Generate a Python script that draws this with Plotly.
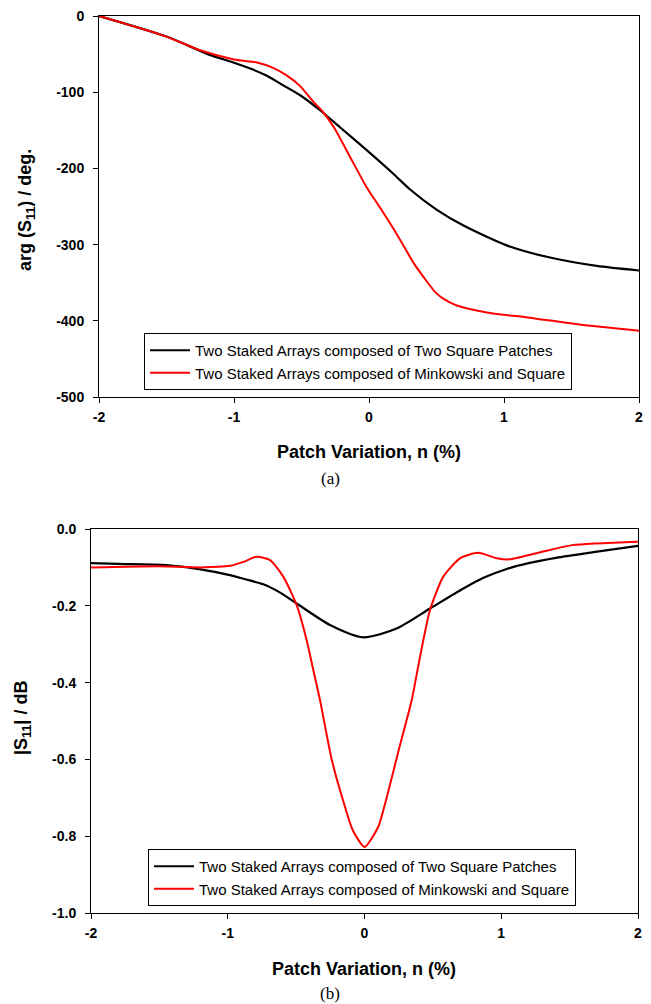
import plotly.graph_objects as go

# ---- Data (a): phase of S11 (deg) ----
xa_square = [-2, -1.5, -1.18, -1.005, -0.88, -0.76, -0.635, -0.51, -0.36, -0.215, -0.017, 0.18, 0.3, 0.5, 0.70, 1.02, 1.316, 1.687, 2.0]
ya_square = [0, -27, -51, -61, -69, -78, -91, -104, -124, -146, -176, -207, -227, -254, -275, -301, -316, -328, -334]

xa_mink = [-2, -1.5, -1.25, -1.0, -0.83, -0.71, -0.61, -0.51, -0.41, -0.35, -0.26, -0.14, -0.017, 0.08, 0.205, 0.33, 0.41, 0.489, 0.55, 0.65, 0.872, 1.19, 1.56, 2.0]
ya_mink = [0, -27, -45, -57, -61, -68, -78, -92, -113, -124, -146, -185, -225, -251, -286, -324, -344, -362, -371, -380, -389, -396, -405, -413]

# ---- Data (b): magnitude of S11 (dB) ----
xb_square = [-2, -1.8, -1.45, -1.2, -0.984, -0.87, -0.74, -0.62, -0.496, -0.252, -0.009, 0.235, 0.479, 0.723, 0.87, 1.04, 1.2, 1.4, 1.7, 2.0]
yb_square = [-0.089, -0.091, -0.094, -0.105, -0.120, -0.131, -0.144, -0.165, -0.194, -0.250, -0.282, -0.259, -0.207, -0.155, -0.127, -0.104, -0.089, -0.075, -0.059, -0.044]

xb_mink = [-2, -1.5, -1.2, -0.984, -0.88, -0.79, -0.69, -0.594, -0.496, -0.423, -0.374, -0.325, -0.24, -0.15, -0.085, 0.0, 0.10, 0.17, 0.25, 0.345, 0.406, 0.479, 0.576, 0.70, 0.83, 0.967, 1.06, 1.28, 1.52, 2.0]
yb_mink = [-0.10, -0.097, -0.10, -0.096, -0.085, -0.072, -0.081, -0.124, -0.198, -0.289, -0.368, -0.446, -0.60, -0.715, -0.785, -0.828, -0.776, -0.689, -0.576, -0.446, -0.333, -0.211, -0.124, -0.076, -0.062, -0.076, -0.079, -0.061, -0.042, -0.033]

name_square = "Two Staked Arrays composed of Two Square Patches"
name_mink = "Two Staked Arrays composed of Minkowski and Square"

xticks = [-2, -1, 0, 1, 2]
xtick_text = ["-2", "-1", "0", "1", "2"]
ya_ticks = [0, -100, -200, -300, -400, -500]
ya_tick_text = ["0", "-100", "-200", "-300", "-400", "-500"]
yb_ticks = [0.0, -0.2, -0.4, -0.6, -0.8, -1.0]
yb_tick_text = ["0.0", "-0.2", "-0.4", "-0.6", "-0.8", "-1.0"]

# page body has an 8px default margin; figure sized to fill the rest of the window
OFF = 8
W, H = 651 - OFF, 1004 - OFF
def px(x): return (x - OFF) / W
def py(y): return 1 - (y - OFF) / H

fig = go.Figure()
line_sq = dict(color="black", width=2.2, shape="spline", smoothing=0.7)
line_mk = dict(color="#ff0000", width=2, shape="spline", smoothing=0.6)
fig.add_trace(go.Scatter(x=xa_square, y=ya_square, mode="lines", name=name_square, line=line_sq,
                         xaxis="x", yaxis="y", legend="legend"))
fig.add_trace(go.Scatter(x=xa_mink, y=ya_mink, mode="lines", name=name_mink, line=line_mk,
                         xaxis="x", yaxis="y", legend="legend"))
fig.add_trace(go.Scatter(x=xb_square, y=yb_square, mode="lines", name=name_square, line=line_sq,
                         xaxis="x2", yaxis="y2", legend="legend2"))
fig.add_trace(go.Scatter(x=xb_mink, y=yb_mink, mode="lines", name=name_mink, line=line_mk,
                         xaxis="x2", yaxis="y2", legend="legend2"))

tickfont = dict(family="Liberation Sans", size=14, color="black", weight="bold")
ax_common = dict(showgrid=False, zeroline=False, showline=True, linecolor="black", linewidth=1,
                 mirror=True, ticks="outside", ticklen=5, tickwidth=1, tickcolor="black",
                 tickfont=tickfont, automargin=False, ticklabeloverflow="allow")

legend_font = dict(family="Liberation Sans", size=15, color="black")
fig.update_layout(
    width=W, height=H, margin=dict(l=0, r=0, t=0, b=0, autoexpand=False),
    paper_bgcolor="white", plot_bgcolor="white", showlegend=True,
    xaxis=dict(domain=[px(99), px(639)], anchor="y", range=[-2, 2], tickvals=xticks,
               ticktext=xtick_text, ticklabelstandoff=2, **ax_common),
    yaxis=dict(domain=[py(397), py(16)], anchor="x", range=[-500, 0], tickvals=ya_ticks,
               ticktext=ya_tick_text, ticklabelstandoff=6, **ax_common),
    xaxis2=dict(domain=[px(91), px(638)], anchor="y2", range=[-2, 2], tickvals=xticks,
                ticktext=xtick_text, ticklabelstandoff=2, **ax_common),
    yaxis2=dict(domain=[py(913), py(529)], anchor="x2", range=[-1.0, 0.0], tickvals=yb_ticks,
                ticktext=yb_tick_text, ticklabelstandoff=6, **ax_common),
    legend=dict(x=px(144), y=py(333), xanchor="left", yanchor="top", bgcolor="white",
                bordercolor="black", borderwidth=1, font=legend_font,
                tracegroupgap=0, itemwidth=40),
    legend2=dict(x=px(148), y=py(849), xanchor="left", yanchor="top", bgcolor="white",
                 bordercolor="black", borderwidth=1, font=legend_font,
                 tracegroupgap=0, itemwidth=40),
)

title_font = dict(family="Liberation Sans", size=18, color="black", weight="bold")
serif_font = dict(family="Liberation Serif", size=17, color="black")
annos = [
    dict(x=px(369), y=py(452), text="Patch Variation, n (%)", font=title_font),
    dict(x=px(330), y=py(478), text="(a)", font=serif_font),
    dict(x=px(27), y=py(210), text="arg (S<sub>11</sub>) / deg.", font=title_font, textangle=-90),
    dict(x=px(364), y=py(969), text="Patch Variation, n (%)", font=title_font),
    dict(x=px(330), y=py(993), text="(b)", font=serif_font),
    dict(x=px(22), y=py(718), text="|S<sub>11</sub>| / dB", font=title_font, textangle=-90),
]
for a in annos:
    fig.add_annotation(xref="paper", yref="paper", showarrow=False, xanchor="center", yanchor="middle", **a)

fig.write_html("out.html")
